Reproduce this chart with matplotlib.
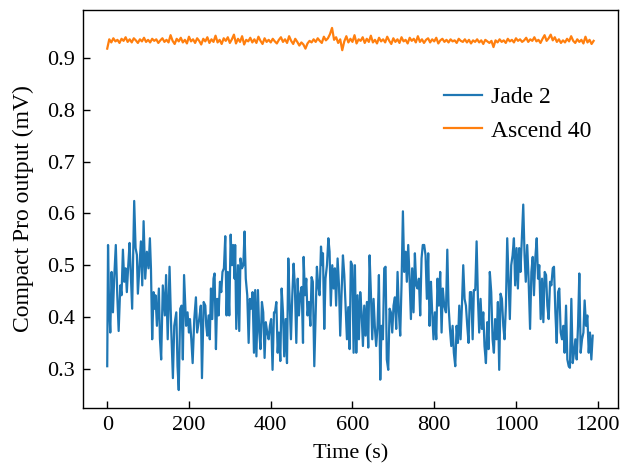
import numpy as np
import matplotlib
matplotlib.use('Agg')
import matplotlib.pyplot as plt

plt.rcParams['font.family'] = ['Liberation Serif', 'DejaVu Serif']
plt.rcParams['font.size'] = 16

# Jade 2: turning points (time s, output mV)
jade_t = [0, 2, 4.5, 7.5, 10.7, 14, 17, 21, 24.6, 28, 32, 35, 38.4, 41.7, 45, 48,
          51.5, 54.7, 58, 61, 66, 69.4, 72.6, 75, 79, 82.4, 85.7, 89, 93, 97, 101,
          104.4, 107, 110, 113.4, 116, 118, 121.6, 126.4, 129, 132, 136, 141, 144,
          148, 152.5, 156.6, 160.7, 164, 169, 172, 175, 178.6, 182, 185, 188, 193,
          196.5, 200,
          202.4, 205.7, 209, 213, 217, 220, 225, 229, 231.8, 236, 240, 242.3, 244.8,
          248, 251, 253.8, 257, 260, 262.7, 266, 269, 272.5, 275.8, 279, 282, 285.5,
          288.8, 292, 295, 298.6, 302, 305, 308, 311.6, 313, 315.7, 320, 323, 326,
          329.6, 333, 336, 339, 342.6, 346, 349, 352, 355.6, 359, 362, 365, 368.7,
          372, 375, 378.5, 381.7, 385, 388, 391.5, 395, 398, 401, 404.5, 408,
          410.4, 413.7, 417, 420, 423.5, 426.7, 430, 433, 436.5, 439.8, 443, 446,
          449.5, 452.8, 456, 459, 462.6, 466, 469, 472, 475.6, 479, 480.5, 483.8,
          487, 490, 493.5, 497, 500, 503, 506.6, 510, 513, 516, 519.6, 523, 526,
          527.8, 531, 534, 537.6, 541, 544, 547, 550.6, 554, 557, 560, 563.6, 567,
          570, 573.4, 576.7, 580, 583, 586.5, 589.7, 593, 596, 599.5, 602.8,
          606, 609.3, 612.5, 615.8, 619, 622.3, 625.6, 628.8, 632, 635.3, 638.6,
          641.9, 645, 648.4, 651.6, 655, 658, 661.4, 664.7, 668, 671, 674.5, 677.7,
          681, 684, 687.5, 690.8, 694, 697.3, 700.5, 703.8, 707, 710.3, 713.6,
          716.8, 720, 723.4, 726.6, 730, 733, 736.4, 739.7, 743, 746, 749.4, 752.7,
          756, 759, 762.5, 765.7, 769, 772, 775.5, 778.8, 782, 785.3, 788.6, 792,
          795, 798.3, 801.6, 805, 808, 811.4, 814.6, 818, 821, 824.4,
          828.7, 832, 835, 838.5, 841.7, 845, 848, 851.5, 854.8, 858, 861.3, 864.5,
          867.8, 871, 874.3, 877.6, 880.8, 884, 887.4, 890.6, 894, 897, 900.4,
          903.7, 907, 910, 913.4, 916.7, 920, 923, 926.5, 929.7, 933, 936, 939.5,
          942.8, 946, 949, 952.6, 955.8, 959, 962.3, 965.6, 969, 972, 975.4, 978.6,
          982, 985, 988.4, 991.7, 995, 998, 1001.5, 1004.7, 1008, 1011, 1014.5,
          1017.8, 1021, 1024, 1027.5, 1030.8,
          1034.5, 1037.7, 1041, 1044, 1047.5, 1050.8, 1054, 1057, 1060.5, 1063.8,
          1067, 1070.3, 1073.6, 1076.8, 1080, 1083.4, 1086.6, 1090, 1093, 1096.4,
          1099.7, 1103, 1106, 1109.4, 1112.7, 1116, 1119, 1122.5, 1125.7, 1129,
          1132, 1135.5, 1138.8, 1142, 1145.3, 1148.6, 1151.8, 1155, 1158.3, 1161.6,
          1165, 1168, 1171.4, 1174.6, 1178, 1181, 1184.4, 1187.7]
jade_v = [0.305, 0.539, 0.422, 0.370, 0.487, 0.409, 0.474, 0.539, 0.442, 0.373,
          0.461, 0.442, 0.530, 0.468, 0.494, 0.448, 0.500, 0.543, 0.474, 0.416,
          0.624, 0.533, 0.520, 0.445, 0.500, 0.546, 0.461, 0.585, 0.474, 0.526,
          0.494, 0.552, 0.494, 0.357, 0.448, 0.416, 0.442, 0.383, 0.455, 0.357,
          0.318, 0.461, 0.403, 0.481, 0.357, 0.497, 0.377, 0.282, 0.383, 0.409,
          0.305, 0.259, 0.416, 0.422, 0.318, 0.481, 0.383, 0.409, 0.370,
          0.396, 0.357, 0.311, 0.396, 0.438, 0.370, 0.396, 0.422, 0.282, 0.429,
          0.422, 0.383, 0.364, 0.403, 0.357, 0.455, 0.396, 0.474, 0.484, 0.338,
          0.435, 0.403, 0.468, 0.448, 0.487, 0.494, 0.556, 0.403, 0.487, 0.403,
          0.559, 0.500, 0.539, 0.474, 0.539, 0.377, 0.500, 0.373, 0.513, 0.494,
          0.500, 0.565, 0.474, 0.442, 0.350, 0.435, 0.416, 0.448, 0.331, 0.452,
          0.324, 0.452, 0.370, 0.338, 0.429, 0.409, 0.321, 0.390, 0.370, 0.357,
          0.383, 0.396, 0.298, 0.409,
          0.409, 0.429, 0.331, 0.370, 0.315, 0.455, 0.409, 0.324, 0.396, 0.311,
          0.513, 0.435, 0.357, 0.442, 0.503, 0.461, 0.350, 0.474, 0.403, 0.442,
          0.458, 0.350, 0.516, 0.442, 0.474, 0.403, 0.429, 0.383, 0.477, 0.468,
          0.305, 0.403, 0.497, 0.461, 0.442, 0.536, 0.500, 0.523, 0.377, 0.474,
          0.500, 0.552, 0.526, 0.422, 0.500, 0.455, 0.494, 0.422, 0.513, 0.461,
          0.364, 0.448, 0.519, 0.481, 0.422, 0.357, 0.419, 0.338, 0.507, 0.500,
          0.331,
          0.500, 0.331, 0.442, 0.357, 0.448, 0.409, 0.344, 0.422, 0.364, 0.429,
          0.341, 0.519, 0.448, 0.357, 0.435, 0.377, 0.344, 0.383, 0.481, 0.279,
          0.383, 0.357, 0.494, 0.497, 0.318, 0.298, 0.416, 0.409, 0.370, 0.422,
          0.438, 0.377, 0.487, 0.409, 0.364, 0.461, 0.604, 0.487, 0.526, 0.468,
          0.539, 0.474, 0.396, 0.494, 0.409, 0.523, 0.461, 0.455, 0.474, 0.403,
          0.513, 0.539, 0.539, 0.519, 0.435, 0.523, 0.383, 0.468, 0.409, 0.357,
          0.409, 0.357, 0.474, 0.422, 0.487, 0.370, 0.455, 0.422,
          0.409, 0.530, 0.422, 0.377, 0.344, 0.383, 0.331, 0.305, 0.383, 0.350,
          0.422, 0.357, 0.422, 0.500, 0.435, 0.422, 0.383, 0.350, 0.448, 0.448,
          0.357, 0.452, 0.452, 0.546, 0.435, 0.370, 0.435, 0.377, 0.409, 0.344,
          0.311, 0.390, 0.338, 0.487, 0.448, 0.357, 0.331, 0.396, 0.357, 0.429,
          0.298, 0.445, 0.435, 0.383, 0.357, 0.422, 0.552, 0.468, 0.396, 0.500,
          0.519, 0.552, 0.461, 0.533, 0.455, 0.533, 0.487, 0.552, 0.617, 0.519,
          0.468, 0.539, 0.474,
          0.377, 0.487, 0.516, 0.442, 0.516, 0.552, 0.474, 0.500, 0.396, 0.474,
          0.390, 0.487, 0.481, 0.422, 0.396, 0.468, 0.461, 0.494, 0.497, 0.409,
          0.350, 0.448, 0.455, 0.370, 0.357, 0.383, 0.331, 0.422, 0.318, 0.305,
          0.302, 0.435, 0.311, 0.331, 0.357, 0.318, 0.383, 0.484, 0.331, 0.357,
          0.370, 0.432, 0.383, 0.403, 0.331, 0.370, 0.318, 0.364]

# Ascend 40: one reading every 5 s from 0 to 1190 s
ascend_step = 5
ascend_v = [0.918, 0.936, 0.930, 0.938, 0.932, 0.935, 0.929, 0.937, 0.933, 0.940, 0.931, 0.936,
            0.930, 0.938, 0.934, 0.929, 0.936, 0.932, 0.939, 0.931, 0.935, 0.930, 0.937, 0.933,
            0.936, 0.929, 0.934, 0.938, 0.931, 0.935, 0.930, 0.944, 0.933, 0.927, 0.937, 0.932,
            0.939, 0.930, 0.935, 0.928, 0.941, 0.932, 0.936, 0.929, 0.938, 0.933, 0.926, 0.937,
            0.932, 0.940, 0.929, 0.936, 0.931, 0.943, 0.930, 0.935, 0.927, 0.938, 0.933, 0.940,
            0.929, 0.936, 0.945, 0.928, 0.937, 0.931, 0.942, 0.926, 0.935, 0.932, 0.939, 0.930,
            0.936, 0.929, 0.941, 0.933, 0.927, 0.938, 0.931, 0.935, 0.930, 0.937, 0.932, 0.928,
            0.935, 0.940, 0.931, 0.936, 0.929, 0.942, 0.933, 0.927, 0.937, 0.931, 0.924, 0.930,
            0.926, 0.918, 0.928, 0.933, 0.930, 0.936, 0.931, 0.938, 0.933, 0.929, 0.941, 0.934,
            0.938, 0.946, 0.958, 0.935, 0.940, 0.929, 0.936, 0.915, 0.932, 0.942, 0.930, 0.937,
            0.931, 0.944, 0.928, 0.936, 0.933, 0.940, 0.929, 0.937, 0.931, 0.943, 0.930, 0.935,
            0.928, 0.939, 0.932, 0.936, 0.930, 0.941, 0.933, 0.927, 0.938, 0.931, 0.936, 0.929,
            0.940, 0.932, 0.935, 0.928, 0.939, 0.933, 0.937, 0.930, 0.942, 0.931, 0.936, 0.929,
            0.935, 0.938, 0.930, 0.936, 0.932, 0.939, 0.928, 0.934, 0.937, 0.931, 0.935, 0.930,
            0.936, 0.932, 0.934, 0.929, 0.937, 0.933, 0.931, 0.936, 0.930, 0.935, 0.928, 0.934,
            0.931, 0.936, 0.930, 0.934, 0.927, 0.935, 0.932, 0.929, 0.933, 0.921, 0.934, 0.930,
            0.936, 0.931, 0.934, 0.929, 0.937, 0.932, 0.935, 0.930, 0.938, 0.933, 0.936, 0.931,
            0.934, 0.939, 0.931, 0.936, 0.933, 0.940, 0.932, 0.935, 0.929, 0.937, 0.944, 0.933,
            0.938, 0.945, 0.934, 0.940, 0.931, 0.936, 0.929, 0.934, 0.930, 0.937, 0.932, 0.942,
            0.933, 0.929, 0.936, 0.931, 0.935, 0.928, 0.941, 0.930, 0.935, 0.927, 0.933]
ascend_t = np.arange(len(ascend_v)) * ascend_step

fig = plt.figure(figsize=(6.28, 4.67), dpi=100)
ax = fig.add_axes([0.132, 0.126, 0.852, 0.853])

ax.plot(jade_t, jade_v, color='#1f77b4', lw=1.6, label='Jade 2')
ax.plot(ascend_t, ascend_v, color='#ff7f0e', lw=1.6, label='Ascend 40')

ax.set_xticks([0, 200, 400, 600, 800, 1000, 1200])
ax.set_yticks([0.3, 0.4, 0.5, 0.6, 0.7, 0.8, 0.9])
ax.tick_params(direction='in', length=5, width=1, labelsize=16, pad=6)
for s in ax.spines.values():
    s.set_linewidth(1.0)

ax.set_xlabel('Time (s)', fontsize=16, labelpad=6)
ax.set_ylabel('Compact Pro output (mV)', fontsize=17, labelpad=9)
ax.legend(frameon=False, loc='upper right', bbox_to_anchor=(0.99, 0.86), fontsize=17,
          handlelength=1.6, handletextpad=0.4)

fig.savefig('out.png', dpi=100)
